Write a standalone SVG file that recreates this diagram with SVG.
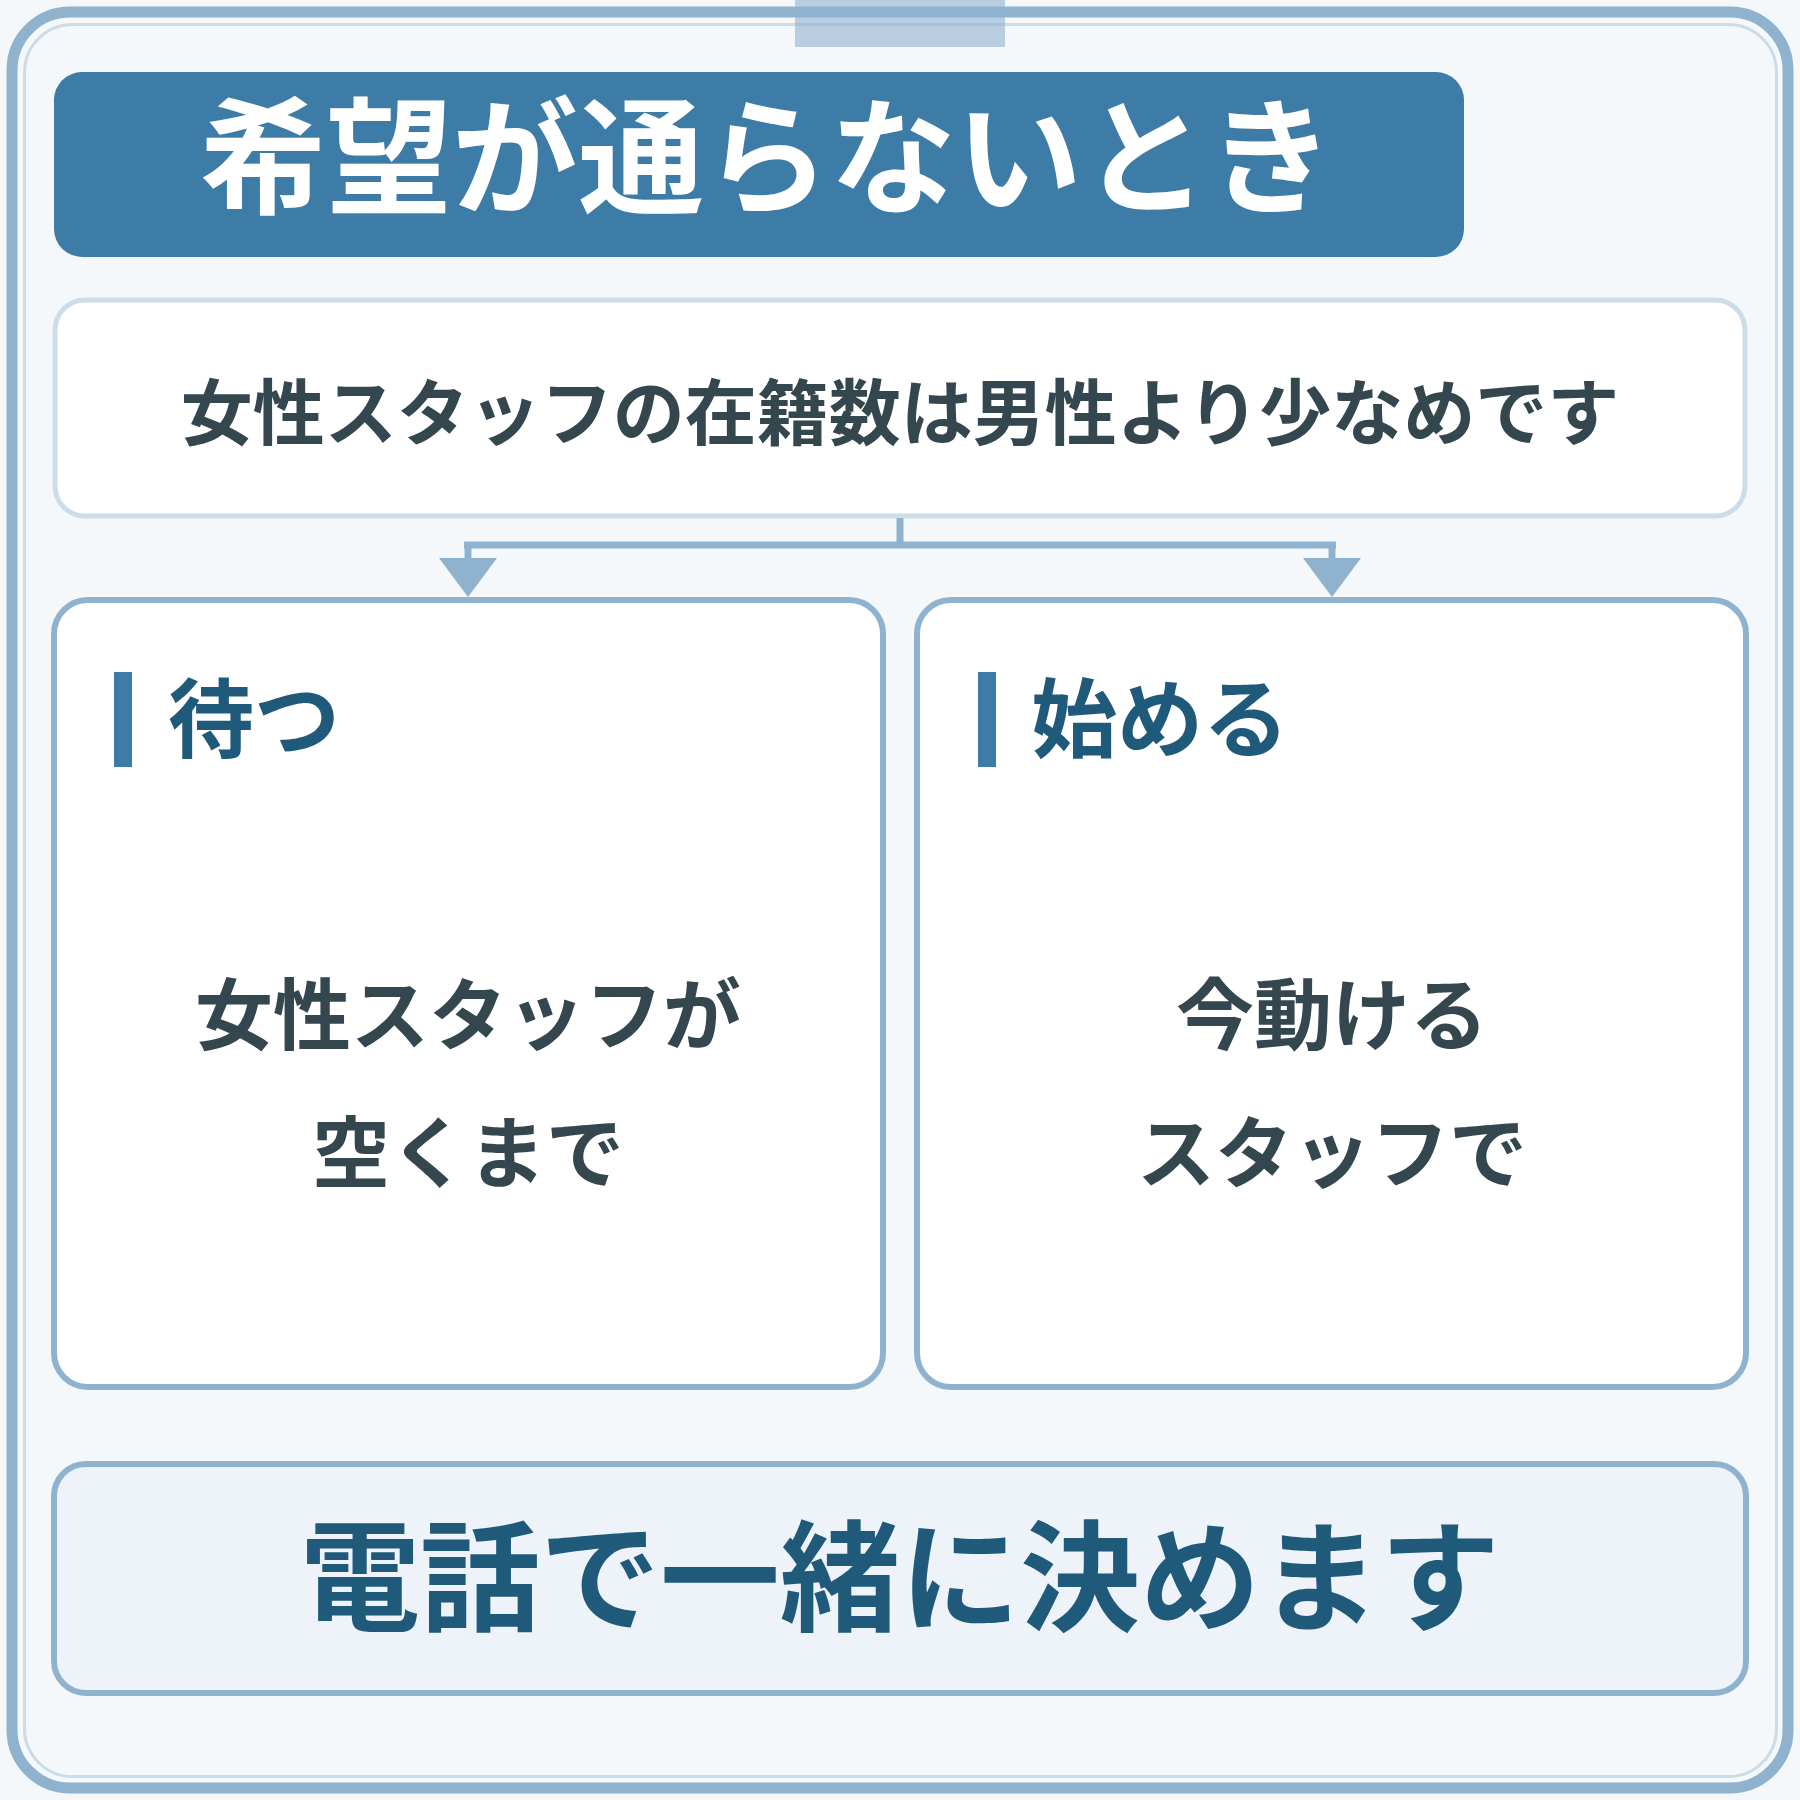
<svg xmlns="http://www.w3.org/2000/svg" width="1800" height="1800" viewBox="0 0 1800 1800">
<style>
text{font-family:"Noto Sans CJK JP","Noto Sans",sans-serif;font-weight:700;dominant-baseline:central}
.title{fill:#ffffff;font-size:126px;text-anchor:middle}
.lead{fill:#34474f;font-size:72px;text-anchor:middle}
.head{fill:#1f5a7a;font-size:86px}
.body{fill:#34474f;font-size:78px;text-anchor:middle}
.foot{fill:#1f5a7a;font-size:120px;text-anchor:middle}
.card{fill:#ffffff;stroke:#8fb3cf;stroke-width:6}
.bar{fill:#3d7ca6}
.conn{stroke:#8fb3cf;stroke-width:7;fill:none}
.head-arrow{fill:#8fb3cf}
</style>
<rect x="0" y="0" width="1800" height="1800" fill="#f4f8fa"/>
<g id="frame">
<rect x="12" y="12" width="1776" height="1776" rx="58" fill="#f4f8fa" stroke="#8fb3cf" stroke-width="11"/>
<rect x="24.5" y="24.5" width="1752" height="1752" rx="48" fill="none" stroke="#c9dce7" stroke-width="3"/>
<rect x="795" y="0" width="210" height="47" fill="#8fb3cf" opacity="0.6"/>
</g>
<g id="header">
<rect x="54" y="72" width="1410" height="185" rx="28" fill="#3d7ca6"/>
<text class="title" x="767" y="149">希望が通らないとき</text>
</g>
<g id="fact">
<rect x="55" y="300" width="1690" height="216" rx="30" fill="#ffffff" stroke="#cddde8" stroke-width="5"/>
<text class="lead" x="900" y="407">女性スタッフの在籍数は男性より少なめです</text>
</g>
<g id="connectors">
<path class="conn" d="M900,518 V545 M464,545 H1336 M468,545 V560 M1332,545 V560"/>
<polygon class="head-arrow" points="439,558 497,558 468,597"/>
<polygon class="head-arrow" points="1303,558 1361,558 1332,597"/>
</g>
<g id="wait">
<rect class="card" x="54" y="600" width="829" height="787" rx="34"/>
<rect class="bar" x="114" y="672" width="18" height="95"/>
<text class="head" x="168" y="713">待つ</text>
<text class="body" x="468" y="1010">女性スタッフが</text>
<text class="body" x="468" y="1148">空くまで</text>
</g>
<g id="start">
<rect class="card" x="917" y="600" width="829" height="787" rx="34"/>
<rect class="bar" x="978" y="672" width="18" height="95"/>
<text class="head" x="1031" y="713">始める</text>
<text class="body" x="1332" y="1010">今動ける</text>
<text class="body" x="1332" y="1148">スタッフで</text>
</g>
<g id="contact">
<rect x="54" y="1464" width="1692" height="229" rx="32" fill="#edf3f9" stroke="#8fb3cf" stroke-width="6"/>
<text class="foot" x="900" y="1570">電話で一緒に決めます</text>
</g>
</svg>
